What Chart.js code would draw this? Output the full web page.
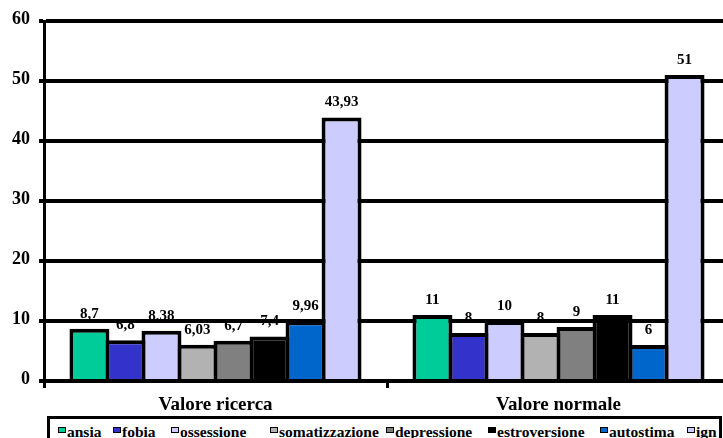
<!DOCTYPE html>
<html>
<head>
<meta charset="utf-8">
<script src="https://cdn.jsdelivr.net/npm/chart.js@4"></script>
<style>
  html, body { margin: 0; padding: 0; background: #fff; overflow: hidden; }
  #wrap { position: relative; width: 723px; height: 438px; overflow: hidden; background: #fff; }
  #c { position: absolute; left: 0; top: 0; }
  #legend { position: absolute; left: 47px; top: 416px; width: 675px; height: 40px; box-sizing: border-box;
            border: 3px solid #000; overflow: hidden; background: #fff;
            font-family: "Liberation Serif", "Times New Roman", serif; font-weight: bold; font-size: 15.5px; color: #000; }
  #legend .mk { position: absolute; top: 8px; width: 6px; height: 4px; border: 1.5px solid #000; }
  #legend .tx { position: absolute; top: 4px; line-height: 18px; white-space: nowrap; }
</style>
</head>
<body>
<div id="wrap">
  <canvas id="c" width="730" height="438"></canvas>
  <div id="legend"></div>
</div>
<script>
// ---- data ----
const categories = ['Valore ricerca', 'Valore normale'];
const seriesNames = ['ansia', 'fobia', 'ossessione', 'somatizzazione', 'depressione', 'estroversione', 'autostima', 'ign'];
const ansia = [8.7, 11];
const fobia = [6.8, 8];
const ossessione = [8.38, 10];
const somatizzazione = [6.03, 8];
const depressione = [6.7, 9];
const estroversione = [7.4, 11];
const autostima = [9.96, 6];
const ign = [43.93, 51];
const yTickValues = [0, 10, 20, 30, 40, 50, 60];

// ---- styles ----
const seriesValues = [ansia, fobia, ossessione, somatizzazione, depressione, estroversione, autostima, ign];
const seriesColors = ['#00CC99', '#3333CC', '#CCCCFF', '#B2B2B2', '#808080', '#000000', '#0066CC', '#CCCCFF'];
const legendX = [58, 113, 171, 270, 386, 488, 600, 687]; // legend marker positions (layout)
const serif = '"Liberation Serif", "Times New Roman", serif';

const valueLabels = {
  id: 'valueLabels',
  beforeDraw(chart) {
    const ctx = chart.ctx;
    ctx.save();
    ctx.font = 'bold 15px ' + serif;
    ctx.fillStyle = '#000';
    ctx.textAlign = 'center';
    ctx.textBaseline = 'middle';
    chart.data.datasets.forEach((ds, i) => {
      chart.getDatasetMeta(i).data.forEach((bar, j) => {
        ctx.fillText(String(ds.data[j]).replace('.', ','), bar.x, bar.y - 15);
      });
    });
    ctx.restore();
  }
};

new Chart(document.getElementById('c'), {
  type: 'bar',
  data: {
    labels: categories,
    datasets: seriesNames.map((name, i) => ({
      label: name,
      data: seriesValues[i],
      backgroundColor: seriesColors[i],
      borderColor: '#000',
      borderWidth: 4,
      borderSkipped: 'start',
      categoryPercentage: 0.84,
      barPercentage: 1.11
    }))
  },
  options: {
    responsive: false,
    animation: false,
    events: [],
    layout: { padding: { top: 21, right: 0, bottom: 0, left: 0 } },
    plugins: { legend: { display: false }, tooltip: { enabled: false }, title: { display: false } },
    scales: {
      x: {
        offset: true,
        grid: { display: true, drawOnChartArea: false, drawTicks: true, tickLength: 7, color: '#000', lineWidth: 3 },
        border: { display: true, color: '#000', width: 4 },
        ticks: { color: '#000', padding: 6, font: { family: serif, weight: 'bold', size: 19 } },
        afterFit(scale) { scale.height = 57; }
      },
      y: {
        min: 0,
        max: 60,
        afterBuildTicks(scale) { scale.ticks = yTickValues.map(v => ({ value: v })); },
        grid: { color: '#000', lineWidth: 4, tickLength: 5, drawTicks: true },
        border: { display: true, color: '#000', width: 3 },
        ticks: { color: '#000', padding: 9, labelOffset: -2, font: { family: serif, weight: 'bold', size: 18 } },
        afterFit(scale) { scale.width = 44; }
      }
    }
  },
  plugins: [valueLabels]
});

// HTML legend (real text)
const legend = document.getElementById('legend');
seriesNames.forEach((name, i) => {
  const mk = document.createElement('span');
  mk.className = 'mk';
  mk.style.left = (legendX[i] - 50) + 'px';
  mk.style.background = seriesColors[i];
  legend.appendChild(mk);
  const tx = document.createElement('span');
  tx.className = 'tx';
  tx.style.left = (legendX[i] - 50 + 9) + 'px';
  tx.textContent = name;
  legend.appendChild(tx);
});
</script>
</body>
</html>
